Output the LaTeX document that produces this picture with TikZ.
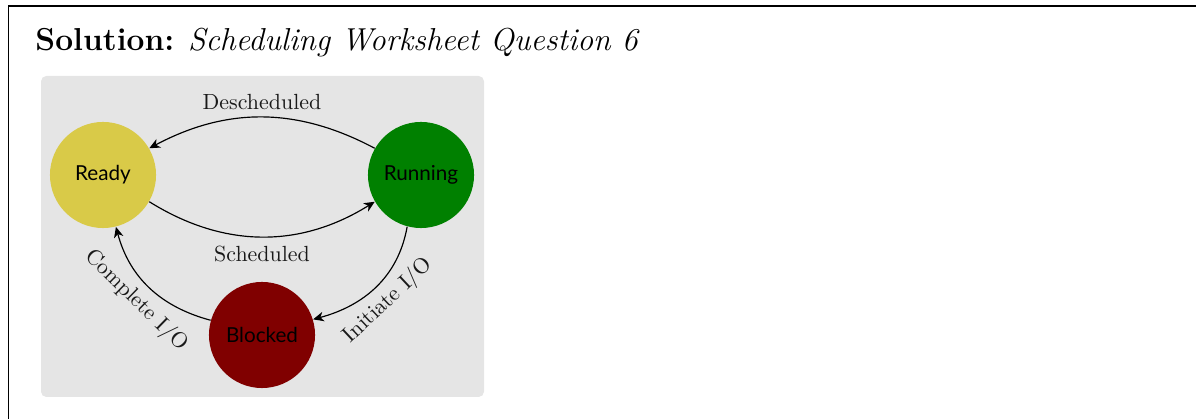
\documentclass[tikz,border=0pt]{standalone}
\usepackage{fontspec}
\newfontfamily\nodefont{Lato}
\usetikzlibrary{arrows.meta}
\definecolor{readyc}{RGB}{217,202,72}
\definecolor{runc}{RGB}{0,128,0}
\definecolor{blockc}{RGB}{128,0,0}
\definecolor{panel}{RGB}{229,229,229}
\begin{document}
\begin{tikzpicture}[x=0.4695pt,y=0.4695pt,
  state/.style={circle,minimum size=49.8pt,inner sep=0pt,font=\nodefont\fontsize{9.7}{12}\selectfont,text=black},
  tr/.style={-{Stealth[length=5pt,width=4.5pt,inset=1.5pt]},line width=0.55pt},
  lab/.style={font=\fontsize{10.3}{12}\selectfont,text=black!90}]
\useasboundingbox (0,0) rectangle (1196,-419);
\draw[line width=0.7pt] (8.5,-419) -- (8.5,-6) -- (1196,-6);
\node[anchor=base west,inner sep=0pt] (title) at (35,-51) {\fontsize{14.9}{18}\selectfont\textbf{Solution:} \textit{Scheduling Worksheet Question 6}};
\fill[panel,rounded corners=2.5pt] (41,-76) rectangle (484,-397);
\node[state,fill=readyc] (ready) at (103,-175) {Ready};
\node[state,fill=runc] (run) at (421,-175) {Running};
\node[state,fill=blockc] (block) at (262,-335) {Blocked};
\draw[tr] (run.150) to[out=152,in=28] node[lab,above] {Descheduled} (ready.30);
\draw[tr] (ready.-30) to[out=-32,in=212] node[lab,below=1pt] {Scheduled} (run.210);
\draw[tr] (run.255) to[out=-100,in=15] node[lab,sloped,below] {Initiate I/O} (block.17);
\draw[tr] (block.164) to[out=165,in=-75] node[lab,sloped,below] {Complete I/O} (ready.284);
\end{tikzpicture}
\end{document}
